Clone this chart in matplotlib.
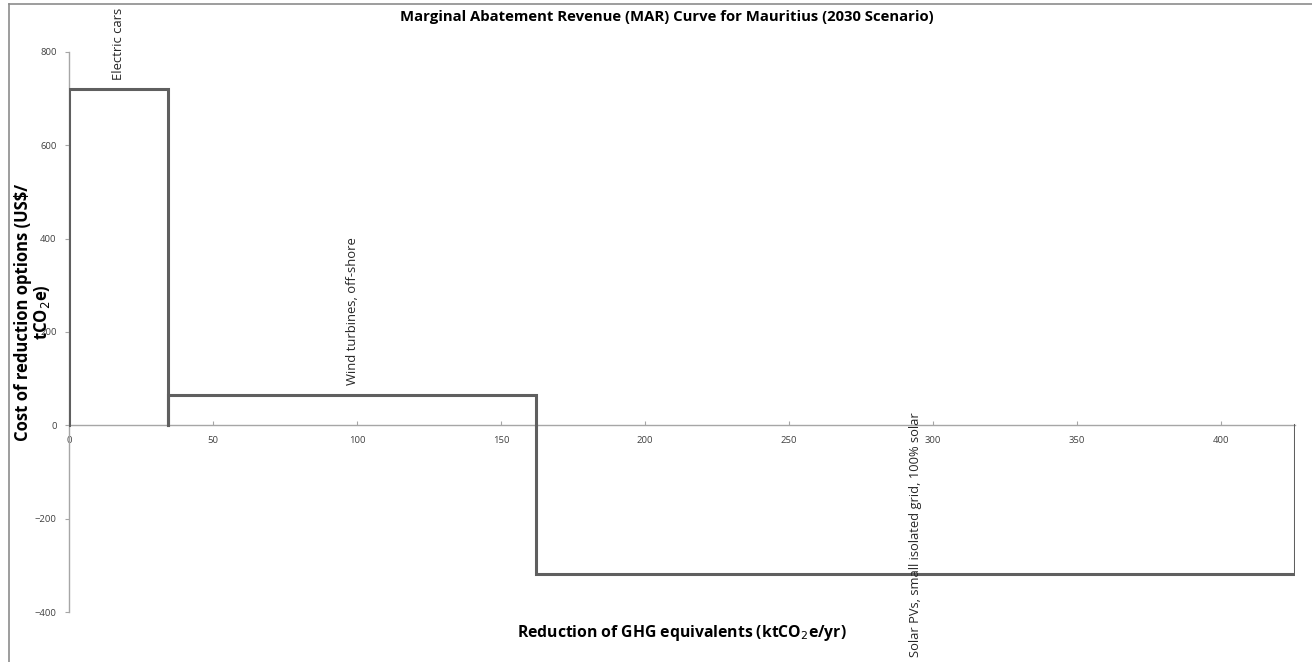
import numpy as np
import matplotlib
matplotlib.use("Agg")
import matplotlib.pyplot as plt
from matplotlib.lines import Line2D

plt.rcParams['font.family'] = ['Open Sans', 'DejaVu Sans']

# 数据：减排选项、减排量（宽度）、成本（高度）
options = ["Electric cars", "Wind turbines, off-shore", "Solar PVs, small isolated grid, 100% solar"]
reduction = [34.4, 127.8, 263.5]     # ktCO2e/yr
cost = [720, 66, -319]               # US$/tCO2e
x_ticks = [0, 50, 100, 150, 200, 250, 300, 350, 400]
y_ticks = [-400, -200, 0, 200, 400, 600, 800]

left_edges = np.concatenate([[0], np.cumsum(reduction)[:-1]])
total = float(np.sum(reduction))

fig = plt.figure(figsize=(13.12, 6.62), dpi=100)
ax = fig.add_axes([0.0526, 0.0755, 0.9345, 0.846])

line_col = '#5f5f5f'
# 每个选项画成三条边（无底边），底边由零轴代替
for i in range(len(options)):
    l = left_edges[i]
    r = l + reduction[i]
    ax.plot([l, l, r, r], [0, cost[i], cost[i], 0], color=line_col,
            linewidth=2.2, solid_joinstyle='miter', zorder=3)

# 柱子标签
for i, name in enumerate(options):
    xc = left_edges[i] + reduction[i] / 2
    if cost[i] >= 0:
        ax.text(xc, cost[i] + 20, name, rotation=90, ha='center', va='bottom',
                fontsize=9.4, color='#262626')
    else:
        ax.text(xc, 27, name, rotation=90, ha='center', va='top',
                fontsize=9.3, color='#262626')

ax.set_xlim(0, total)
ax.set_ylim(-400, 800)
ax.set_xticks(x_ticks)
ax.set_yticks(y_ticks)

for s in ['top', 'right']:
    ax.spines[s].set_visible(False)
ax.spines['bottom'].set_position(('data', 0))
ax.spines['bottom'].set_color('#a6a6a6')
ax.spines['left'].set_color('#a6a6a6')
ax.spines['bottom'].set_linewidth(1.0)
ax.spines['left'].set_linewidth(1.0)
ax.tick_params(axis='x', direction='in', length=3, color='#a6a6a6',
               labelsize=6.8, labelcolor='#404040', pad=8)
ax.tick_params(axis='y', direction='out', length=3, color='#a6a6a6',
               labelsize=6.8, labelcolor='#404040', pad=6)

fig.text(667 / 1312, 1 - 17 / 662,
         "Marginal Abatement Revenue (MAR) Curve for Mauritius (2030 Scenario)",
         ha='center', va='center', fontsize=10.7, fontweight='bold')
fig.text(682 / 1312, 1 - 633 / 662, "Reduction of GHG equivalents (ktCO$_2$e/yr)",
         ha='center', va='center', fontsize=11.3, fontweight='bold')
fig.text(33 / 1312, 1 - 312 / 662, "Cost of reduction options (US$/\ntCO$_2$e)",
         ha='center', va='center', rotation=90, fontsize=12,
         fontweight='bold', linespacing=1.05)

# 图表外框（上、左）
fig.add_artist(Line2D([0.0069, 1.0], [0.994, 0.994], transform=fig.transFigure,
                      color='#8c8c8c', linewidth=1.2))
fig.add_artist(Line2D([0.0069, 0.0069], [0.0, 0.994], transform=fig.transFigure,
                      color='#8c8c8c', linewidth=1.2))

fig.savefig("out.png", dpi=100)
